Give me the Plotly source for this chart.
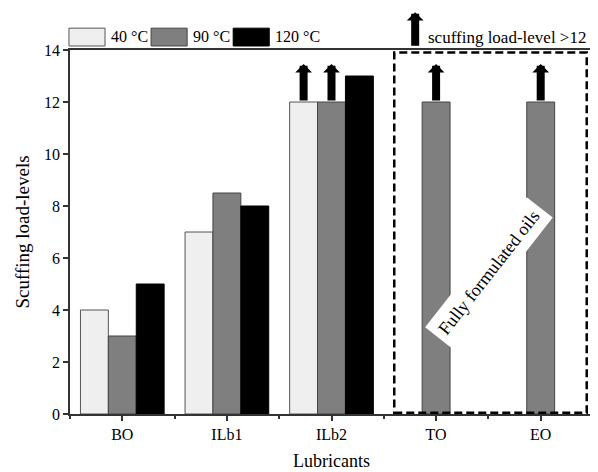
import plotly.graph_objects as go

categories = ["BO", "ILb1", "ILb2", "TO", "EO"]
series_names = ["40 °C", "90 °C", "120 °C"]
vals_40 = [4, 7, 12, None, None]
vals_90 = [3, 8.5, 12, 12, 12]
vals_120 = [5, 8, 13, None, None]
# bars whose real load-level exceeds 12 (marked with an up arrow)
exceeds_40 = [False, False, True, False, False]
exceeds_90 = [False, False, True, True, True]
exceeds_120 = [False, False, False, False, False]

colors = ["#efefef", "#7f7f7f", "#000000"]
outline = ["#555555", "#444444", "#000000"]
FONT = "Liberation Serif"

series = [vals_40, vals_90, vals_120]
flags = [exceeds_40, exceeds_90, exceeds_120]
xpos = list(range(len(categories)))

fig = go.Figure()
for name, vals, col, oc in zip(series_names, series, colors, outline):
    fig.add_trace(go.Bar(x=xpos, y=vals, name=name, marker_color=col,
                         marker_line=dict(color=oc, width=1), showlegend=False))

bargap = 0.2
bw = (1 - bargap) / len(series)
arrow_len = 1.46  # in data units above bar top
for si, (vals, fl) in enumerate(zip(series, flags)):
    off = (si - (len(series) - 1) / 2) * bw
    for ci, (v, f) in enumerate(zip(vals, fl)):
        if f and v is not None:
            fig.add_annotation(x=ci + off, y=v + arrow_len, ax=ci + off, ay=v,
                               xref="x", yref="y", axref="x", ayref="y",
                               text="", showarrow=True, arrowhead=1,
                               arrowwidth=8, arrowsize=0.35, arrowcolor="black",
                               standoff=0, startstandoff=0)

# dashed box around fully formulated oils
fig.add_shape(type="rect", xref="x", yref="y", x0=2.6, x1=4.44, y0=0.05, y1=13.9,
              line=dict(color="black", width=2.5, dash="8px,4px"), fillcolor="rgba(0,0,0,0)")

fig.add_annotation(x=3.51, y=5.45, xref="x", yref="y", text="Fully formulated oils",
                   textangle=-52, showarrow=False, bgcolor="white", borderpad=6,
                   font=dict(family=FONT, size=18, color="black"))

# custom legend
leg_x0, leg_step, box_w = -0.002, 0.157, 0.069
for i, (name, col, oc) in enumerate(zip(series_names, colors, outline)):
    x0 = leg_x0 + i * leg_step
    fig.add_shape(type="rect", xref="paper", yref="paper", x0=x0, x1=x0 + box_w,
                  y0=1.011, y1=1.060, fillcolor=col, line=dict(color=oc, width=1))
    fig.add_annotation(xref="paper", yref="paper", x=x0 + box_w + 0.008, y=1.036,
                       xanchor="left", yanchor="middle", text=name, showarrow=False,
                       font=dict(family=FONT, size=16, color="black"))

# arrow legend
fig.add_annotation(xref="paper", yref="paper", x=0.660, y=1.104, ax=0, ay=35,
                   text="", showarrow=True, arrowhead=1, arrowwidth=8, arrowsize=0.35,
                   arrowcolor="black", standoff=0)
fig.add_annotation(xref="paper", yref="paper", x=0.681, y=1.034, xanchor="left",
                   yanchor="middle", text="scuffing load-level >12", showarrow=False,
                   font=dict(family=FONT, size=17, color="black"))

axis_common = dict(showline=True, linecolor="#333333", linewidth=1.5, mirror=True,
                   showgrid=False, zeroline=False, ticks="outside", ticklen=5,
                   tickwidth=1.5, tickcolor="#333333",
                   tickfont=dict(family=FONT, size=16, color="black"))

fig.update_layout(
    width=590, height=464, barmode="group", bargap=bargap, bargroupgap=0,
    plot_bgcolor="white", paper_bgcolor="white",
    margin=dict(l=62, r=5, t=42, b=58),
    xaxis=dict(**axis_common, range=[-0.5, 4.5], tickvals=xpos, ticktext=categories,
               minor=dict(ticks="outside", tick0=0.5, dtick=1, ticklen=3,
                          tickcolor="#333333", tickwidth=1.5),
               title=dict(text="Lubricants", standoff=12,
                          font=dict(family=FONT, size=18, color="black"))),
    yaxis=dict(**axis_common, range=[0, 14], dtick=2,
               title=dict(text="Scuffing load-levels", standoff=9,
                          font=dict(family=FONT, size=19, color="black"))),
)
fig.update_xaxes(automargin=False)
fig.update_yaxes(automargin=False)

fig.write_html("out.html")
